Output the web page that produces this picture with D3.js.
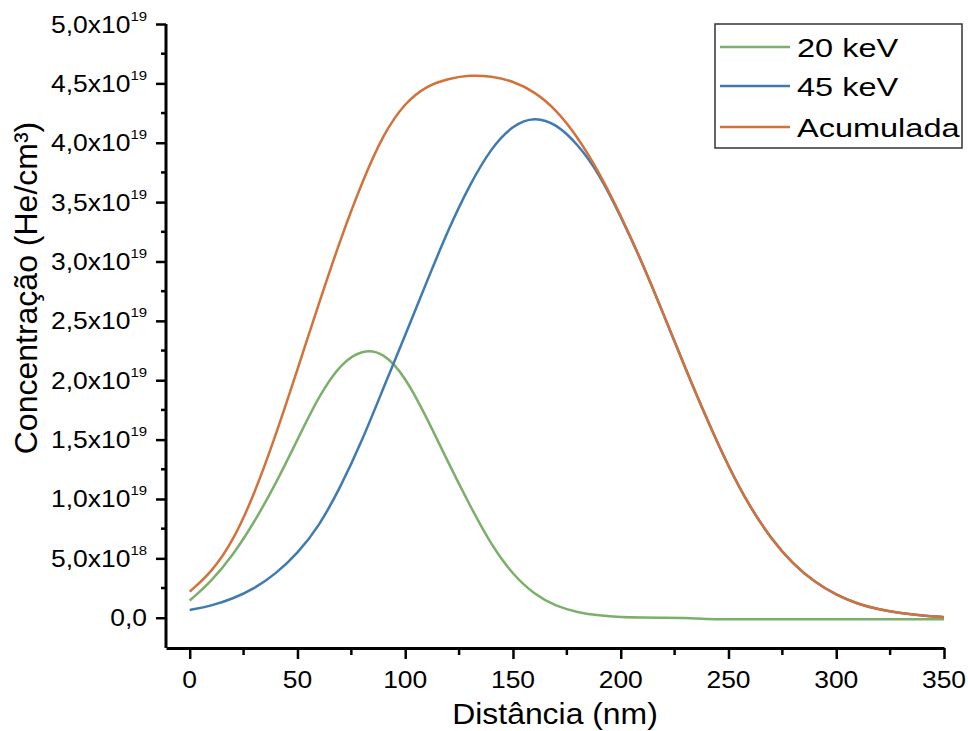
<!DOCTYPE html>
<html lang="pt">
<head>
<meta charset="utf-8">
<title>Concentração de He</title>
<script src="https://cdnjs.cloudflare.com/ajax/libs/d3/7.8.5/d3.min.js"></script>
<style>
  body { margin: 0; background: #fff; }
  svg { font-family: "Liberation Sans", Arial, sans-serif; }
  .axis path, .axis line { stroke: #000; }
</style>
</head>
<body>
<svg width="968" height="731"></svg>
<script>
// distance (nm), values in units of 1e19 He/cm3
var distancia = [0, 10, 20, 30, 40, 50, 60, 70, 80, 90, 100, 110, 120, 130, 140, 150, 160, 170, 180,
                 190, 200, 210, 220, 230, 240, 250, 260, 270, 280, 290, 300, 310, 320, 330, 340, 350];
var kev20 = [0.145, 0.305, 0.525, 0.805, 1.13, 1.50, 1.87, 2.14, 2.26, 2.235, 2.03, 1.685, 1.305, 0.945, 0.61, 0.36, 0.195, 0.095, 0.045,
             0.018, 0.005, 0.001, 0.0, 0.0, -0.013, -0.013, -0.013, -0.013, -0.013, -0.013, -0.013, -0.013, -0.013, -0.013, -0.013, -0.013];
var kev45 = [0.065, 0.10, 0.16, 0.245, 0.37, 0.54, 0.77, 1.10, 1.49, 1.94, 2.38, 2.83, 3.27, 3.65, 3.96, 4.15, 4.22, 4.16, 3.99,
             3.74, 3.38, 2.99, 2.55, 2.10, 1.67, 1.27, 0.93, 0.66, 0.45, 0.30, 0.19, 0.115, 0.068, 0.038, 0.018, 0.005];
var acumulada = [0.22, 0.38, 0.64, 1.04, 1.54, 2.09, 2.65, 3.19, 3.67, 4.08, 4.34, 4.48, 4.54, 4.57, 4.56, 4.52, 4.43, 4.28, 4.05,
                 3.75, 3.39, 2.99, 2.55, 2.10, 1.67, 1.27, 0.93, 0.66, 0.45, 0.30, 0.19, 0.115, 0.068, 0.038, 0.018, 0.005];

var seriesNames = ["20 keV", "45 keV", "Acumulada"];
var seriesColors = ["#7daf6c", "#3f7ab1", "#d2723a"];
var xTicks = [0, 50, 100, 150, 200, 250, 300, 350];
var yTicks = [0, 0.5, 1.0, 1.5, 2.0, 2.5, 3.0, 3.5, 4.0, 4.5, 5.0];

var svg = d3.select("svg");

var x = d3.scaleLinear().domain([-11, 350]).range([166, 944]);
var y = d3.scaleLinear().domain([-0.255, 5.0]).range([648, 24]);

// minor ticks
var xMinor = d3.range(25, 350, 50);
var yMinor = d3.range(0.25, 5, 0.5);

svg.append("g").selectAll("line").data(xMinor).enter().append("line")
    .attr("x1", function(d) { return x(d); }).attr("x2", function(d) { return x(d); })
    .attr("y1", 648).attr("y2", 655)
    .attr("stroke", "#000").attr("stroke-width", 2.5);

svg.append("g").selectAll("line").data(yMinor).enter().append("line")
    .attr("y1", function(d) { return y(d); }).attr("y2", function(d) { return y(d); })
    .attr("x1", 166).attr("x2", 161)
    .attr("stroke", "#000").attr("stroke-width", 2.5);

// x axis
var xAxis = svg.append("g")
    .attr("class", "axis")
    .attr("transform", "translate(0,648)")
    .call(d3.axisBottom(x).tickValues(xTicks).tickSize(11).tickSizeOuter(0).tickFormat(""));
xAxis.select(".domain").attr("stroke-width", 3);
xAxis.selectAll(".tick line").attr("stroke-width", 2.5);

// x tick labels (slightly wide, like the original)
svg.append("g").selectAll("text").data(xTicks).enter().append("text")
    .attr("transform", function(d) { return "translate(" + x(d) + ",688) scale(1.15,1)"; })
    .attr("text-anchor", "middle")
    .attr("font-size", 23)
    .attr("fill", "#000")
    .text(function(d) { return d; });

// y axis
var yAxis = svg.append("g")
    .attr("class", "axis")
    .attr("transform", "translate(166,0)")
    .call(d3.axisLeft(y).tickValues(yTicks).tickSize(10).tickSizeOuter(0).tickFormat(""));
yAxis.select(".domain").attr("stroke-width", 3).attr("d", "M0," + y(-0.255) + "V" + y(5.0));
yAxis.selectAll(".tick line").attr("stroke-width", 2.5);

// y tick labels with superscript exponent
var fmt = d3.format(".1f");
yTicks.forEach(function(v) {
  var t = svg.append("text")
      .attr("transform", "translate(147," + (y(v) + 8.5) + ") scale(1.15,1)")
      .attr("text-anchor", "end")
      .attr("font-size", 23)
      .attr("fill", "#000");
  if (v === 0) {
    t.text("0,0");
  } else {
    var mant = v < 1 ? v * 10 : v;
    var exp = v < 1 ? "18" : "19";
    t.append("tspan").text(fmt(mant).replace(".", ",") + "x10");
    t.append("tspan").attr("font-size", 13).attr("dy", -12).text(exp);
  }
});

// axis titles
svg.append("text")
    .attr("transform", "translate(555,724) scale(1.1,1)")
    .attr("text-anchor", "middle")
    .attr("font-size", 29)
    .attr("fill", "#000")
    .text("Distância (nm)");

svg.append("text")
    .attr("transform", "translate(37,288) rotate(-90)")
    .attr("text-anchor", "middle")
    .attr("font-size", 32)
    .attr("fill", "#000")
    .text("Concentração (He/cm³)");

// curves
var allSeries = [kev20, kev45, acumulada];
var line = d3.line()
    .x(function(d) { return x(d[0]); })
    .y(function(d) { return y(d[1]); })
    .curve(d3.curveBasis);

allSeries.forEach(function(vals, i) {
  svg.append("path")
      .datum(d3.zip(distancia, vals))
      .attr("fill", "none")
      .attr("stroke", seriesColors[i])
      .attr("stroke-width", 2.5)
      .attr("d", line);
});

// legend
var legend = svg.append("g");
legend.append("rect")
    .attr("x", 715).attr("y", 24).attr("width", 247).attr("height", 124)
    .attr("fill", "#fff").attr("stroke", "#333").attr("stroke-width", 1.5);
var rowsY = [47, 86, 127];
seriesNames.forEach(function(name, i) {
  legend.append("line")
      .attr("x1", 720).attr("x2", 790)
      .attr("y1", rowsY[i]).attr("y2", rowsY[i])
      .attr("stroke", seriesColors[i]).attr("stroke-width", 2.5);
  legend.append("text")
      .attr("transform", "translate(797," + (rowsY[i] + 9.5) + ") scale(1.25,1)")
      .attr("font-size", 26)
      .attr("fill", "#000")
      .text(name);
});
</script>
</body>
</html>
